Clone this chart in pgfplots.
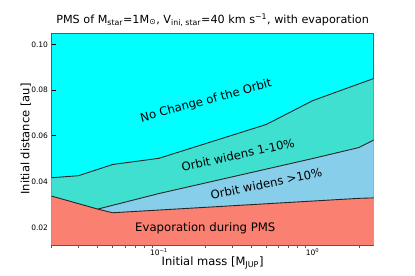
\documentclass[border=0pt]{standalone}
\usepackage{fontspec}
\setmainfont{DejaVu Sans}
\usepackage{pgfplots}
\pgfplotsset{compat=1.18}
\definecolor{turq}{HTML}{40E0D0}
\definecolor{skyb}{HTML}{87CEEB}
\definecolor{salm}{HTML}{FA8072}
\definecolor{cyn}{HTML}{00FFFF}
\begin{document}
\begin{tikzpicture}
\begin{axis}[
 scale only axis, width=322.2bp, height=212bp,
 xmode=log, xmin=0.02, xmax=2.5, ymin=0.0123, ymax=0.105,
 axis background/.style={fill=cyn},
 axis line style={gray!70!black, line width=0.8bp},
 xtick={0.1,1}, xticklabels={10\textsuperscript{−1},10\textsuperscript{0}},
 xminorticks=false,
 ytick={0.02,0.04,0.06,0.08,0.10},
 yticklabels={0.02,0.04,0.06,0.08,0.10},
 xtick pos=bottom, ytick pos=left,
 tick align=inside, major tick length=5bp,
 tick style={black, line width=1bp},
 ticklabel style={font=\fontsize{7.5bp}{9bp}\selectfont},
 extra x ticks={0.02,0.03,0.04,0.05,0.06,0.07,0.08,0.09,0.2,0.3,0.4,0.5,0.6,0.7,0.8,0.9,2},
 extra x tick labels={},
 extra x tick style={tick align=outside, major tick length=2.5bp, tick style={line width=0.6bp, gray!70!black}},
 xlabel={Initial mass [M\textsubscript{JUP}]},
 ylabel={Initial distance [au]},
 label style={font=\fontsize{11.5bp}{13bp}\selectfont},
 xlabel style={at={(axis description cs:0.5,-0.0976)}, anchor=base},
 ylabel style={at={(axis description cs:-0.0801,0.5)}, anchor=center},
 title={PMS of M\textsubscript{star}=1M\textsubscript{⊙}, V\textsubscript{ini, star}=40 km s\textsuperscript{−1}, with evaporation},
 title style={font=\fontsize{11.2bp}{12bp}\selectfont, at={(axis description cs:0.5,1.0175)}, anchor=base},
 clip=true,
]
\coordinate (sw) at (rel axis cs:0,0);
% Orbit widens 1-10% region (turquoise)
\addplot[fill=turq, draw=none] coordinates {(0.02,0.0417) (0.03,0.0426) (0.05,0.0475) (0.1,0.0502) (0.5,0.0650) (1,0.0754) (2.5,0.0851) (2.5,0.0123) (0.02,0.0123)} -- cycle;
% Orbit widens >10% region (sky blue)
\addplot[fill=skyb, draw=none] coordinates {(0.04,0.0280) (0.1,0.0348) (0.2,0.0394) (1,0.0501) (2,0.0549) (2.5,0.0582) (2.5,0.0123) (0.04,0.0123)} -- cycle;
% Evaporation region (salmon)
\addplot[fill=salm, draw=none] coordinates {(0.02,0.0337) (0.04,0.0280) (0.05,0.0264) (2,0.0327) (2.5,0.0329) (2.5,0.0123) (0.02,0.0123)} -- cycle;
% boundaries
\addplot[black!85, line width=0.9bp] coordinates {(0.02,0.0417) (0.03,0.0426) (0.05,0.0475) (0.1,0.0502) (0.5,0.0650) (1,0.0754) (2.5,0.0851)};
\addplot[black!85, line width=0.9bp] coordinates {(0.04,0.0280) (0.1,0.0348) (0.2,0.0394) (1,0.0501) (2,0.0549) (2.5,0.0582)};
\addplot[black!85, line width=0.9bp] coordinates {(0.02,0.0337) (0.04,0.0280) (0.05,0.0264) (2,0.0327) (2.5,0.0329)};
\node[rotate=15.2, font=\fontsize{11.7bp}{13bp}\selectfont] at (axis cs:0.203,0.0752) {No Change of the Orbit};
\node[rotate=12.4, font=\fontsize{11.7bp}{13bp}\selectfont, inner sep=1pt] at (axis cs:0.327,0.0517) {Orbit widens 1-10\%};
\node[rotate=11.8, font=\fontsize{11.7bp}{13bp}\selectfont, inner sep=1pt] at (axis cs:0.5,0.0391) {Orbit widens >10\%};
\node[font=\fontsize{11.7bp}{13bp}\selectfont] at (axis cs:0.2004,0.0197) {Evaporation during PMS};
\end{axis}
\pgfresetboundingbox
\path ([shift={(-51.5bp,-31bp)}]sw) rectangle ++(415bp,276bp);
\end{tikzpicture}
\end{document}
